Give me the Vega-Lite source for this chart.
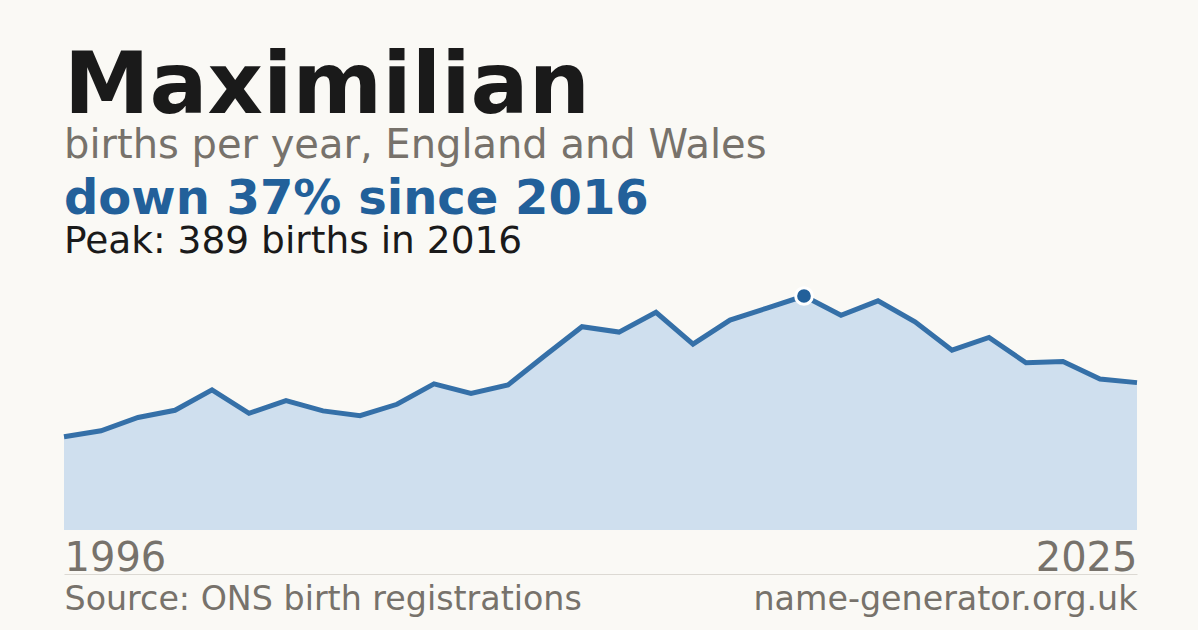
{
  "$schema": "https://vega.github.io/schema/vega-lite/v6.json",
  "background": "#faf9f5",
  "padding": {"left": 54, "right": 51, "top": 44, "bottom": 20},
  "bounds": "flush",
  "spacing": 43,
  "config": {
    "view": {"stroke": null},
    "font": "DejaVu Sans"
  },
  "title": {
    "text": "Maximilian",
    "subtitle": "births per year, England and Wales",
    "anchor": "start",
    "frame": "group",
    "font": "DejaVu Sans",
    "fontSize": 86,
    "fontWeight": "bold",
    "color": "#1a1a1a",
    "subtitleFont": "DejaVu Sans",
    "subtitleFontSize": 40,
    "subtitleColor": "#77726b",
    "subtitlePadding": -5,
    "offset": 9
  },
  "vconcat": [
    {
      "width": 1073,
      "height": 234,
      "title": {
        "text": "down 37% since 2016",
        "subtitle": "Peak: 389 births in 2016",
        "anchor": "start",
        "frame": "group",
        "font": "DejaVu Sans",
        "fontSize": 48,
        "fontWeight": "bold",
        "color": "#22609a",
        "subtitleFont": "DejaVu Sans",
        "subtitleFontSize": 37.5,
        "subtitleColor": "#1a1a1a",
        "subtitlePadding": -1,
        "offset": 21
      },
      "data": {
        "values": [
          {"year": 1996, "births": 155},
          {"year": 1997, "births": 165},
          {"year": 1998, "births": 187},
          {"year": 1999, "births": 199},
          {"year": 2000, "births": 233},
          {"year": 2001, "births": 194},
          {"year": 2002, "births": 215},
          {"year": 2003, "births": 198},
          {"year": 2004, "births": 190},
          {"year": 2005, "births": 209},
          {"year": 2006, "births": 243},
          {"year": 2007, "births": 227},
          {"year": 2008, "births": 241},
          {"year": 2009, "births": 290},
          {"year": 2010, "births": 338},
          {"year": 2011, "births": 329},
          {"year": 2012, "births": 362},
          {"year": 2013, "births": 309},
          {"year": 2014, "births": 349},
          {"year": 2015, "births": 369},
          {"year": 2016, "births": 389},
          {"year": 2017, "births": 357},
          {"year": 2018, "births": 381},
          {"year": 2019, "births": 346},
          {"year": 2020, "births": 299},
          {"year": 2021, "births": 320},
          {"year": 2022, "births": 278},
          {"year": 2023, "births": 280},
          {"year": 2024, "births": 251},
          {"year": 2025, "births": 245}
        ]
      },
      "encoding": {
        "x": {
          "field": "year",
          "type": "quantitative",
          "scale": {"domain": [1996, 2025], "nice": false, "zero": false},
          "axis": {
            "values": [1996, 2025],
            "format": "d",
            "title": null,
            "grid": false,
            "ticks": false,
            "domain": false,
            "labelFlush": true,
            "labelFont": "DejaVu Sans",
            "labelFontSize": 40,
            "labelColor": "#77726b",
            "labelPadding": 8
          }
        },
        "y": {
          "field": "births",
          "type": "quantitative",
          "scale": {"domain": [0, 389], "nice": false},
          "axis": null
        }
      },
      "layer": [
        {"mark": {"type": "area", "color": "#cfdfee"}},
        {"mark": {"type": "line", "color": "#3570a8", "strokeWidth": 5}},
        {
          "transform": [{"filter": "datum.year == 2016"}],
          "mark": {
            "type": "circle",
            "size": 280,
            "fill": "#22609a",
            "fillOpacity": 1,
            "stroke": "#ffffff",
            "strokeWidth": 3,
            "strokeOpacity": 1
          }
        }
      ]
    },
    {
      "width": 1073,
      "height": 1,
      "data": {
        "values": [
          {"note": "Source: ONS birth registrations"},
          {"note": "name-generator.org.uk"}
        ]
      },
      "mark": {"type": "point", "opacity": 0},
      "encoding": {
        "x": {
          "field": "note",
          "type": "nominal",
          "sort": null,
          "scale": {"type": "point", "padding": 0},
          "axis": {
            "title": null,
            "ticks": false,
            "grid": false,
            "domain": true,
            "domainColor": "#dcd9d3",
            "domainWidth": 1,
            "labelAngle": 0,
            "labelAlign": {"condition": {"test": "datum.index == 1", "value": "right"}, "value": "left"},
            "labelFont": "DejaVu Sans",
            "labelFontSize": 33.3,
            "labelColor": "#77726b",
            "labelPadding": 9,
            "labelLimit": 800
          }
        }
      }
    }
  ]
}
